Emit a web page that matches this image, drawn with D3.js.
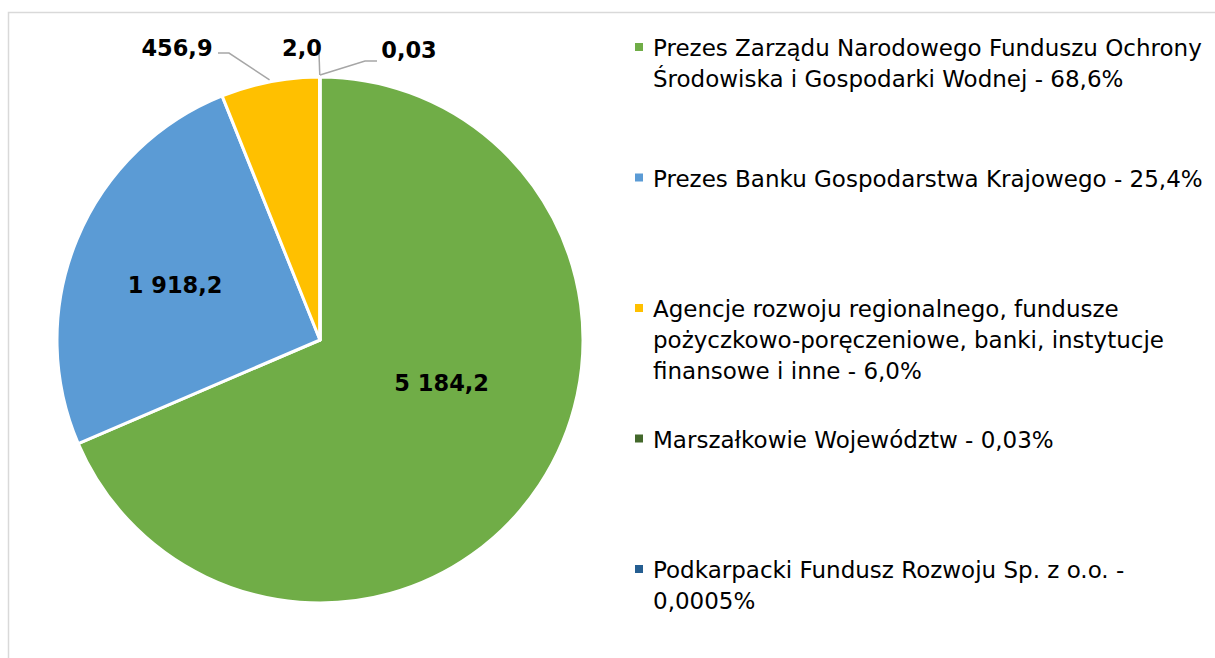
<!DOCTYPE html>
<html><head><meta charset="utf-8">
<script src="https://cdn.jsdelivr.net/npm/d3@7"></script>
<style>
html,body{margin:0;padding:0;background:#fff;}
svg{display:block;}
text{font-family:"DejaVu Sans",sans-serif;}
</style></head>
<body>
<script>
// Data
const categories = [
  "Prezes Zarządu Narodowego Funduszu Ochrony\nŚrodowiska i Gospodarki Wodnej - 68,6%",
  "Prezes Banku Gospodarstwa Krajowego - 25,4%",
  "Agencje rozwoju regionalnego, fundusze\npożyczkowo-poręczeniowe, banki, instytucje\nfinansowe i inne - 6,0%",
  "Marszałkowie Województw - 0,03%",
  "Podkarpacki Fundusz Rozwoju Sp. z o.o. -\n0,0005%"
];
const values = [5184.2, 1918.2, 456.9, 2.0, 0.03];
const valueLabels = ["5 184,2", "1 918,2", "456,9", "2,0", "0,03"];
const colors = ["#70ad47", "#5b9bd5", "#ffc000", "#43682b", "#255e91"];

// Layout
const W = 1215, H = 658;
const cx = 320, cy = 340, R = 263;
const svg = d3.select("body").append("svg").attr("width", W).attr("height", H);

svg.append("rect").attr("x", 8.5).attr("y", 12.5).attr("width", W).attr("height", H)
  .attr("fill", "none").attr("stroke", "#d9d9d9").attr("stroke-width", 1.5);

const pie = d3.pie().sort(null).value(d => d);
const arcs = pie(values);
const arc = d3.arc().innerRadius(0).outerRadius(R);

const g = svg.append("g").attr("transform", `translate(${cx},${cy})`);
g.selectAll("path").data(arcs).enter().append("path")
  .attr("d", arc)
  .attr("fill", (d, i) => colors[i])
  .attr("stroke", "#fff").attr("stroke-width", 3).attr("stroke-linejoin", "round");

// label placement config
const inside = {0: {da: -14, r: 129}, 1: {da: -1.7, r: 155}};
const outside = {
  2: {tx: 177, ty: 48, elbow: [[218, 53], [229, 53]]},
  3: {tx: 302, ty: 48, elbow: [[319, 53]]},
  4: {tx: 409, ty: 50, elbow: [[377, 61], [365, 61]]}
};
const fontLbl = "bold 22.5px 'DejaVu Sans',sans-serif";

arcs.forEach((a, i) => {
  const mid = (a.startAngle + a.endAngle) / 2;
  if (inside[i]) {
    const ang = mid + inside[i].da * Math.PI / 180;
    const x = cx + inside[i].r * Math.sin(ang), y = cy - inside[i].r * Math.cos(ang);
    svg.append("text").attr("x", x).attr("y", y).attr("dy", "0.36em")
      .attr("text-anchor", "middle").style("font", fontLbl).attr("fill", "#000")
      .text(valueLabels[i]);
  } else {
    const o = outside[i];
    const rp = R + 2;
    const ex = cx + rp * Math.sin(mid), ey = cy - rp * Math.cos(mid);
    const pts = o.elbow.concat([[ex, ey]]);
    svg.append("path").attr("d", d3.line()(pts)).attr("fill", "none")
      .attr("stroke", "#a6a6a6").attr("stroke-width", 1.5);
    svg.append("text").attr("x", o.tx).attr("y", o.ty).attr("dy", "0.36em")
      .attr("text-anchor", "middle").style("font", fontLbl).attr("fill", "#000")
      .text(valueLabels[i]);
  }
});

// Legend
const legX = 635, legTextX = 653, leg0 = 48, legStep = 130.5, lineH = 31;
const leg = svg.append("g");
categories.forEach((c, i) => {
  const y0 = leg0 + i * legStep;
  leg.append("rect").attr("x", legX).attr("y", y0 - 5).attr("width", 8).attr("height", 8)
    .attr("fill", colors[i]);
  const t = leg.append("text").style("font-size", "23px").attr("fill", "#000");
  c.split("\n").forEach((line, j) => {
    t.append("tspan").attr("x", legTextX).attr("y", y0 + j * lineH).attr("dy", "0.36em").text(line);
  });
});
</script>
</body></html>
